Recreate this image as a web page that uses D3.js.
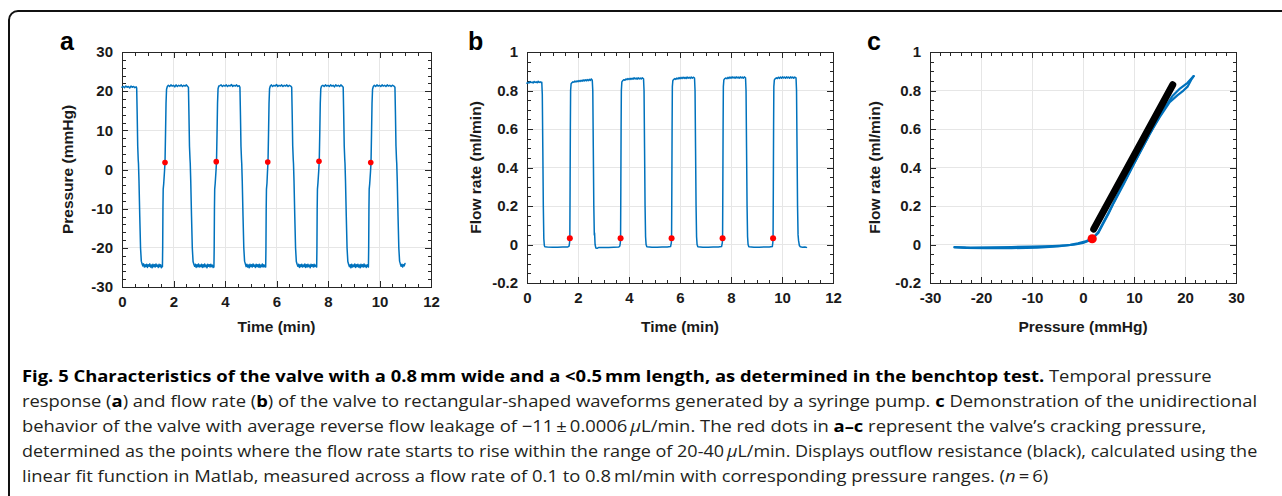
<!DOCTYPE html>
<html>
<head>
<meta charset="utf-8">
<script src="https://cdnjs.cloudflare.com/ajax/libs/d3/7.8.5/d3.min.js"></script>
<style>
  html, body { margin: 0; padding: 0; background: #fff; }
  svg { display: block; }
</style>
</head>
<body>
<svg width="1282" height="496"></svg>
<script>
// ---- data ----
const timeTicks = [0, 2, 4, 6, 8, 10, 12];
const pressureTicks = [-30, -20, -10, 0, 10, 20, 30];
const flowTicks = [-0.2, 0, 0.2, 0.4, 0.6, 0.8, 1];

// panel a: pressure (mmHg) vs time (min)
const pressureTrace = [
  [0,21.0],[0.05,21.2],[0.1,20.9],[0.15,21.3],[0.2,21.0],[0.25,21.2],[0.3,20.8],[0.35,21.3],[0.4,21.0],[0.45,21.2],[0.5,20.9],[0.55,21.1],
  [0.57,20.8],[0.59,14],[0.61,6],[0.63,2.5],[0.64,1.5],[0.66,-3],[0.69,-12],[0.72,-20],[0.75,-23.4],[0.78,-24.1],
  [0.81,-24.6],[0.84,-24.1],[0.87,-24.9],[0.9,-24.3],[0.93,-24.8],[0.96,-24.2],[0.99,-25.0],[1.02,-24.3],[1.05,-24.7],[1.08,-24.1],[1.11,-24.9],[1.14,-24.4],[1.17,-25.1],[1.2,-24.2],[1.23,-24.8],[1.26,-24.3],[1.29,-24.9],[1.32,-24.1],[1.35,-24.7],[1.38,-24.4],[1.41,-25.0],[1.44,-24.2],[1.47,-24.8],[1.5,-24.3],[1.53,-25.1],[1.56,-24.6],
  [1.57,-24.8],[1.58,-20],[1.59,-10],[1.6,-5],[1.62,-3.6],[1.65,-0.5],[1.67,1.8],[1.69,9],[1.71,17],[1.73,20.5],[1.76,21.2],
  [1.8,21.5],[1.85,21.2],[1.9,21.6],[1.95,21.3],[2.0,21.5],[2.05,21.1],[2.1,21.6],[2.15,21.2],[2.2,21.5],[2.25,21.3],[2.3,21.6],[2.35,21.2],[2.4,21.5],[2.45,21.3],[2.5,21.6],[2.55,21.2],
  [2.58,21.0],[2.6,14],[2.62,6],[2.64,2.8],[2.65,1.6],[2.67,-3],[2.7,-12],[2.73,-20],[2.76,-23.5],[2.79,-24.2],
  [2.82,-24.7],[2.85,-24.2],[2.88,-25.0],[2.91,-24.3],[2.94,-24.8],[2.97,-24.1],[3.0,-24.9],[3.03,-24.4],[3.06,-24.8],[3.09,-24.2],[3.12,-25.0],[3.15,-24.3],[3.18,-24.9],[3.21,-24.1],[3.24,-24.8],[3.27,-24.4],[3.3,-25.1],[3.33,-24.2],[3.36,-24.7],[3.39,-24.3],[3.42,-24.9],[3.45,-24.2],[3.48,-24.8],[3.51,-24.4],[3.54,-25.0],[3.56,-24.6],
  [3.57,-24.9],[3.58,-20],[3.59,-10],[3.6,-5],[3.62,-3.5],[3.65,-0.4],[3.67,2.0],[3.69,9],[3.71,17],[3.73,20.6],[3.76,21.3],
  [3.8,21.4],[3.85,21.6],[3.9,21.2],[3.95,21.5],[4.0,21.3],[4.05,21.6],[4.1,21.2],[4.15,21.5],[4.2,21.3],[4.25,21.7],[4.3,21.2],[4.35,21.5],[4.4,21.3],[4.45,21.6],[4.5,21.2],[4.55,21.4],
  [4.58,21.0],[4.6,14],[4.62,6],[4.64,2.7],[4.65,1.5],[4.67,-3],[4.7,-12],[4.73,-20],[4.76,-23.4],[4.79,-24.1],
  [4.82,-24.8],[4.85,-24.2],[4.88,-24.9],[4.91,-24.4],[4.94,-25.1],[4.97,-24.2],[5.0,-24.8],[5.03,-24.3],[5.06,-24.9],[5.09,-24.1],[5.12,-24.7],[5.15,-24.4],[5.18,-25.0],[5.21,-24.2],[5.24,-24.8],[5.27,-24.3],[5.3,-24.9],[5.33,-24.2],[5.36,-25.0],[5.39,-24.4],[5.42,-24.8],[5.45,-24.1],[5.48,-24.9],[5.51,-24.3],[5.54,-24.8],[5.57,-24.6],
  [5.58,-24.9],[5.59,-20],[5.6,-10],[5.61,-5],[5.63,-3.5],[5.65,-0.5],[5.67,1.9],[5.69,9],[5.71,17],[5.73,20.6],[5.76,21.3],
  [5.8,21.6],[5.85,21.2],[5.9,21.5],[5.95,21.3],[6.0,21.7],[6.05,21.2],[6.1,21.5],[6.15,21.3],[6.2,21.6],[6.25,21.2],[6.3,21.5],[6.35,21.3],[6.4,21.6],[6.45,21.2],[6.5,21.5],[6.55,21.3],
  [6.59,21.0],[6.61,14],[6.63,6],[6.65,2.6],[6.66,1.5],[6.68,-3],[6.71,-12],[6.74,-20],[6.77,-23.5],[6.8,-24.2],
  [6.83,-24.7],[6.86,-24.2],[6.89,-25.0],[6.92,-24.3],[6.95,-24.8],[6.98,-24.2],[7.01,-24.9],[7.04,-24.4],[7.07,-24.8],[7.1,-24.1],[7.13,-25.0],[7.16,-24.3],[7.19,-24.9],[7.22,-24.2],[7.25,-24.8],[7.28,-24.4],[7.31,-25.1],[7.34,-24.2],[7.37,-24.7],[7.4,-24.3],[7.43,-24.9],[7.46,-24.2],[7.49,-24.8],[7.52,-24.4],[7.55,-24.6],
  [7.56,-24.9],[7.57,-20],[7.58,-10],[7.59,-5],[7.61,-3.4],[7.64,-0.3],[7.66,2.1],[7.68,9],[7.7,17],[7.72,20.6],[7.75,21.3],
  [7.8,21.5],[7.85,21.2],[7.9,21.6],[7.95,21.3],[8.0,21.5],[8.05,21.2],[8.1,21.6],[8.15,21.3],[8.2,21.5],[8.25,21.1],[8.3,21.6],[8.35,21.3],[8.4,21.5],[8.45,21.2],[8.5,21.6],[8.55,21.3],
  [8.59,21.0],[8.61,14],[8.63,6],[8.65,2.7],[8.66,1.6],[8.68,-3],[8.71,-12],[8.74,-20],[8.77,-23.5],[8.8,-24.2],
  [8.83,-24.8],[8.86,-24.3],[8.89,-25.1],[8.92,-24.2],[8.95,-24.9],[8.98,-24.4],[9.01,-24.8],[9.04,-24.1],[9.07,-25.0],[9.1,-24.3],[9.13,-24.8],[9.16,-24.2],[9.19,-24.9],[9.22,-24.4],[9.25,-25.1],[9.28,-24.2],[9.31,-24.8],[9.34,-24.3],[9.37,-24.9],[9.4,-24.1],[9.43,-24.8],[9.46,-24.4],[9.49,-25.0],[9.52,-24.3],[9.55,-24.7],
  [9.57,-24.9],[9.58,-20],[9.59,-10],[9.6,-5],[9.62,-3.6],[9.65,-0.6],[9.67,1.7],[9.69,9],[9.71,17],[9.73,20.5],[9.76,21.2],
  [9.8,21.5],[9.85,21.2],[9.9,21.6],[9.95,21.3],[10.0,21.5],[10.05,21.2],[10.1,21.6],[10.15,21.3],[10.2,21.5],[10.25,21.2],[10.3,21.6],[10.35,21.3],[10.4,21.5],[10.45,21.2],[10.5,21.5],[10.56,21.3],
  [10.6,21.0],[10.62,14],[10.64,6],[10.66,2.6],[10.67,1.5],[10.69,-3],[10.72,-12],[10.75,-20],[10.78,-23.4],[10.81,-24.1],
  [10.84,-24.7],[10.87,-24.2],[10.9,-24.9],[10.93,-24.3],[10.96,-24.6],[10.99,-24.0]
];
const crackTimeA = [1.67, 3.66, 5.66, 7.65, 9.66];
const crackPressureA = [1.8, 2.0, 1.9, 2.1, 1.8];

// panel b: flow rate (ml/min) vs time (min)
const flowTrace = [
  [0,0.838],[0.04,0.842],[0.08,0.839],[0.12,0.846],[0.16,0.841],[0.2,0.844],[0.24,0.839],[0.28,0.847],[0.32,0.842],[0.36,0.845],[0.4,0.84],[0.44,0.848],[0.48,0.842],[0.52,0.845],[0.56,0.841],[0.58,0.843],
  [0.6,0.78],[0.62,0.5],[0.64,0.2],[0.66,0.03],[0.68,-0.005],[0.7,-0.012],
  [0.8,-0.013],[1.0,-0.014],[1.2,-0.014],[1.4,-0.013],[1.6,-0.013],[1.65,-0.008],[1.67,0.01],
  [1.68,0.033],[1.69,0.3],[1.7,0.6],[1.71,0.8],[1.73,0.835],[1.76,0.84],
  [1.8,0.845],[1.84,0.843],[1.88,0.849],[1.92,0.844],[1.96,0.85],[2.0,0.846],[2.04,0.852],[2.08,0.847],[2.12,0.853],[2.16,0.848],[2.2,0.855],[2.24,0.849],[2.28,0.856],[2.32,0.85],[2.36,0.857],[2.4,0.851],[2.44,0.858],[2.48,0.852],[2.52,0.86],[2.56,0.853],
  [2.58,0.8],[2.6,0.5],[2.62,0.2],[2.64,0.05],[2.65,0.06],[2.67,0.0],[2.7,-0.018],[2.75,-0.02],[2.8,-0.016],
  [3.0,-0.015],[3.2,-0.015],[3.4,-0.014],[3.6,-0.013],[3.64,-0.008],[3.66,0.01],
  [3.67,0.033],[3.68,0.3],[3.69,0.6],[3.7,0.8],[3.72,0.845],[3.76,0.852],
  [3.8,0.856],[3.84,0.853],[3.88,0.86],[3.92,0.856],[3.96,0.862],[4.0,0.857],[4.04,0.863],[4.08,0.858],[4.12,0.864],[4.16,0.859],[4.2,0.866],[4.24,0.86],[4.28,0.865],[4.32,0.859],[4.36,0.866],[4.4,0.86],[4.44,0.865],[4.48,0.86],[4.52,0.866],[4.57,0.861],
  [4.59,0.8],[4.61,0.5],[4.63,0.2],[4.65,0.04],[4.67,0.0],[4.7,-0.012],
  [4.9,-0.014],[5.1,-0.014],[5.3,-0.013],[5.5,-0.013],[5.63,-0.011],[5.66,0.01],
  [5.67,0.033],[5.68,0.3],[5.69,0.6],[5.7,0.82],[5.72,0.852],[5.76,0.858],
  [5.8,0.862],[5.84,0.858],[5.88,0.865],[5.92,0.86],[5.96,0.867],[6.0,0.861],[6.04,0.868],[6.08,0.862],[6.12,0.869],[6.16,0.863],[6.2,0.868],[6.24,0.862],[6.28,0.87],[6.32,0.864],[6.36,0.869],[6.4,0.863],[6.44,0.87],[6.48,0.864],[6.52,0.869],[6.57,0.864],
  [6.59,0.8],[6.61,0.5],[6.63,0.2],[6.65,0.04],[6.67,0.0],[6.7,-0.012],
  [6.9,-0.014],[7.1,-0.014],[7.3,-0.013],[7.5,-0.013],[7.63,-0.011],[7.66,0.01],
  [7.67,0.033],[7.68,0.3],[7.69,0.6],[7.7,0.82],[7.72,0.855],[7.76,0.862],
  [7.8,0.865],[7.84,0.861],[7.88,0.868],[7.92,0.863],[7.96,0.87],[8.0,0.864],[8.04,0.871],[8.08,0.865],[8.12,0.87],[8.16,0.864],[8.2,0.871],[8.24,0.865],[8.28,0.87],[8.32,0.864],[8.36,0.871],[8.4,0.865],[8.44,0.87],[8.48,0.864],[8.52,0.871],[8.57,0.866],
  [8.59,0.8],[8.61,0.5],[8.63,0.2],[8.65,0.04],[8.67,0.0],[8.7,-0.012],
  [8.9,-0.014],[9.1,-0.014],[9.3,-0.013],[9.5,-0.013],[9.62,-0.011],[9.64,0.01],
  [9.65,0.033],[9.66,0.3],[9.67,0.6],[9.68,0.82],[9.7,0.855],[9.74,0.862],
  [9.78,0.866],[9.82,0.862],[9.86,0.869],[9.9,0.863],[9.94,0.87],[9.98,0.864],[10.02,0.871],[10.06,0.865],[10.1,0.87],[10.14,0.864],[10.18,0.871],[10.22,0.865],[10.26,0.87],[10.3,0.864],[10.34,0.871],[10.38,0.865],[10.42,0.87],[10.46,0.864],[10.5,0.87],[10.55,0.866],
  [10.57,0.8],[10.59,0.5],[10.61,0.2],[10.63,0.05],[10.65,0.02],[10.68,-0.005],[10.72,-0.012],
  [10.8,-0.014],[10.9,-0.013],[10.96,-0.015]
];
const crackTimeB = [1.68, 3.67, 5.67, 7.67, 9.65];
const crackFlowB = [0.033, 0.033, 0.033, 0.033, 0.033];

// panel c: flow vs pressure loop, linear fit, cracking point
const loopRise = [
  [-25.2,-0.013],[-22,-0.016],[-18,-0.015],[-14,-0.013],[-10,-0.011],[-6,-0.008],[-3,-0.004],[-1.5,0.0],[0,0.008],[1,0.018],[1.8,0.03],
  [3,0.06],[4,0.11],[5,0.16],[6,0.215],[8,0.315],[10,0.42],[12,0.52],[14,0.62],[16,0.71],[17.5,0.77],[19,0.81],[20.5,0.84],[21.7,0.875]
];
const loopFall = [
  [21.7,0.875],[21.2,0.855],[20.5,0.82],[19.5,0.795],[18.5,0.775],[17,0.74],[15,0.66],[13,0.57],[11,0.47],[9,0.37],[7,0.27],[5,0.165],
  [4,0.115],[3,0.065],[2,0.035],[0.5,0.016],[-1,0.006],[-2.5,-0.002],[-5,-0.01],[-9,-0.016],[-14,-0.019],[-19,-0.019],[-23,-0.018],[-25.2,-0.015]
];
const fitPressure = [2.1, 17.6];
const fitFlow = [0.08, 0.83];
const crackPressureC = [1.8];
const crackFlowC = [0.03];

const captionLines = [
  [["b", "Fig. 5 Characteristics of the valve with a 0.8\u2009mm wide and a <0.5\u2009mm length, as determined in the benchtop test."], ["n", " Temporal pressure"]],
  [["n", "response ("], ["b", "a"], ["n", ") and flow rate ("], ["b", "b"], ["n", ") of the valve to rectangular-shaped waveforms generated by a syringe pump. "], ["b", "c"], ["n", " Demonstration of the unidirectional"]],
  [["n", "behavior of the valve with average reverse flow leakage of \u221211\u2009\u00b1\u20090.0006\u2009"], ["i", "\u03bc"], ["n", "L/min. The red dots in "], ["b", "a\u2013c"], ["n", " represent the valve\u2019s cracking pressure,"]],
  [["n", "determined as the points where the flow rate starts to rise within the range of 20-40\u2009"], ["i", "\u03bc"], ["n", "L/min. Displays outflow resistance (black), calculated using the"]],
  [["n", "linear fit function in Matlab, measured across a flow rate of 0.1 to 0.8\u2009ml/min with corresponding pressure ranges. ("], ["i", "n"], ["n", "\u2009=\u20096)"]]
];

// ---- drawing ----
const BLUE = "#0072BD";
const LABEL_FONT = '"Liberation Sans", Arial, sans-serif';
var svg = d3.select("svg");

svg.append("rect")
    .attr("x", 9).attr("y", 11)
    .attr("width", 1300).attr("height", 520)
    .attr("rx", 9)
    .attr("fill", "none").attr("stroke", "#111").attr("stroke-width", 2);

var fmt = function(d) { return String(d); };

function drawPanel(o) {
  var x = d3.scaleLinear().domain(o.xDomain).range([o.left, o.right]);
  var y = d3.scaleLinear().domain(o.yDomain).range([o.bottom, o.top]);
  var g = svg.append("g");

  // grid
  g.append("g").selectAll("line").data(o.xTicks).enter().append("line")
      .attr("x1", d => x(d)).attr("x2", d => x(d))
      .attr("y1", o.top).attr("y2", o.bottom)
      .attr("stroke", "#e6e6e6").attr("shape-rendering", "crispEdges");
  g.append("g").selectAll("line").data(o.yTicks).enter().append("line")
      .attr("y1", d => y(d)).attr("y2", d => y(d))
      .attr("x1", o.left).attr("x2", o.right)
      .attr("stroke", "#e6e6e6").attr("shape-rendering", "crispEdges");

  function addAxis(axis, tr, keepLabels) {
    var a = g.append("g").attr("transform", tr).call(axis);
    a.select(".domain").remove();
    a.selectAll(".tick line").attr("stroke", "#262626").attr("shape-rendering", "crispEdges");
    if (!keepLabels) a.selectAll(".tick text").remove();
    else a.selectAll(".tick text")
        .style("font-family", LABEL_FONT).style("font-weight", "bold")
        .style("font-size", "15px").style("fill", "#1a1a1a");
  }
  var xMinor = d3.range(o.xDomain[0], o.xDomain[1] + 1e-9, o.xMinorStep);
  var yMinor = d3.range(o.yDomain[0], o.yDomain[1] + 1e-9, o.yMinorStep);

  addAxis(d3.axisBottom(x).tickValues(xMinor).tickSize(-3.5).tickFormat(""), "translate(0," + o.bottom + ")", false);
  addAxis(d3.axisTop(x).tickValues(xMinor).tickSize(-3.5).tickFormat(""), "translate(0," + o.top + ")", false);
  addAxis(d3.axisLeft(y).tickValues(yMinor).tickSize(-3.5).tickFormat(""), "translate(" + o.left + ",0)", false);
  addAxis(d3.axisRight(y).tickValues(yMinor).tickSize(-3.5).tickFormat(""), "translate(" + o.right + ",0)", false);

  addAxis(d3.axisBottom(x).tickValues(o.xTicks).tickSize(-6).tickPadding(9).tickFormat(fmt), "translate(0," + o.bottom + ")", true);
  addAxis(d3.axisTop(x).tickValues(o.xTicks).tickSize(-6).tickFormat(""), "translate(0," + o.top + ")", false);
  addAxis(d3.axisLeft(y).tickValues(o.yTicks).tickSize(-6).tickPadding(9).tickFormat(fmt), "translate(" + o.left + ",0)", true);
  addAxis(d3.axisRight(y).tickValues(o.yTicks).tickSize(-6).tickFormat(""), "translate(" + o.right + ",0)", false);

  g.append("rect")
      .attr("x", o.left).attr("y", o.top)
      .attr("width", o.right - o.left).attr("height", o.bottom - o.top)
      .attr("fill", "none").attr("stroke", "#262626").attr("shape-rendering", "crispEdges");

  g.append("text")
      .attr("x", (o.left + o.right) / 2).attr("y", 332)
      .attr("text-anchor", "middle")
      .attr("font-family", LABEL_FONT).attr("font-weight", "bold").attr("font-size", 15.5)
      .attr("fill", "#1a1a1a")
      .text(o.xTitle);
  g.append("text")
      .attr("transform", "translate(" + o.yTitleX + "," + (o.top + o.bottom) / 2 + ") rotate(-90)")
      .attr("text-anchor", "middle")
      .attr("font-family", LABEL_FONT).attr("font-weight", "bold").attr("font-size", 15.5)
      .attr("fill", "#1a1a1a")
      .text(o.yTitle);
  g.append("text")
      .attr("x", o.letterX).attr("y", 50)
      .attr("font-family", LABEL_FONT).attr("font-weight", "bold").attr("font-size", 25)
      .attr("fill", "#000")
      .text(o.letter);

  return { x: x, y: y, g: g };
}

var pa = drawPanel({
  left: 122, right: 431, top: 52, bottom: 287,
  xDomain: [0, 12], yDomain: [-30, 30],
  xTicks: timeTicks, yTicks: pressureTicks,
  xMinorStep: 0.5, yMinorStep: 2,
  xTitle: "Time (min)", yTitle: "Pressure (mmHg)", yTitleX: 73,
  letter: "a", letterX: 60
});
var pb = drawPanel({
  left: 527, right: 833, top: 52, bottom: 283,
  xDomain: [0, 12], yDomain: [-0.2, 1],
  xTicks: timeTicks, yTicks: flowTicks,
  xMinorStep: 0.5, yMinorStep: 0.05,
  xTitle: "Time (min)", yTitle: "Flow rate (ml/min)", yTitleX: 481,
  letter: "b", letterX: 468
});
var pc = drawPanel({
  left: 930, right: 1236, top: 52, bottom: 283,
  xDomain: [-30, 30], yDomain: [-0.2, 1],
  xTicks: pressureTicks, yTicks: flowTicks,
  xMinorStep: 2, yMinorStep: 0.05,
  xTitle: "Pressure (mmHg)", yTitle: "Flow rate (ml/min)", yTitleX: 880,
  letter: "c", letterX: 867
});

function trace(p, data, color, width) {
  p.g.append("path")
      .datum(data)
      .attr("fill", "none")
      .attr("stroke", color)
      .attr("stroke-width", width)
      .attr("stroke-linejoin", "round")
      .attr("stroke-linecap", "round")
      .attr("d", d3.line().x(d => p.x(d[0])).y(d => p.y(d[1])));
}
function dots(p, xs, ys, r) {
  p.g.append("g").selectAll("circle").data(xs).enter().append("circle")
      .attr("cx", d => p.x(d))
      .attr("cy", (d, i) => p.y(ys[i]))
      .attr("r", r)
      .attr("fill", "#ff0000");
}

trace(pa, pressureTrace, BLUE, 1.5);
dots(pa, crackTimeA, crackPressureA, 2.8);

trace(pb, flowTrace, BLUE, 1.5);
dots(pb, crackTimeB, crackFlowB, 3);

trace(pc, loopRise, BLUE, 2.2);
trace(pc, loopFall, BLUE, 2.2);
trace(pc, fitPressure.map((p, i) => [p, fitFlow[i]]), "#000", 7);
dots(pc, crackPressureC, crackFlowC, 4.6);

// caption: one horizontal squeeze for all lines, set by the second (full) line;
// a line that would still run past the right margin is squeezed a bit more
var cap = svg.append("g")
    .attr("font-family", '"Open Sans", "Noto Sans", sans-serif')
    .attr("font-size", 16.5)
    .attr("fill", "#231f20");
var texts = captionLines.map(function(parts) {
  var t = cap.append("text").attr("x", 0).attr("y", 0);
  parts.forEach(function(p) {
    var s = t.append("tspan").text(p[1]);
    if (p[0] === "b") s.attr("font-weight", "bold").attr("fill", "#000");
    if (p[0] === "i") s.attr("font-style", "italic");
  });
  return t;
});
var fullWidth = 1236;
var k = fullWidth / texts[1].node().getComputedTextLength();
texts.forEach(function(t, i) {
  var w = t.node().getComputedTextLength();
  var s = Math.min(k, fullWidth / w);
  t.attr("transform", "translate(22," + (382 + 25 * i) + ") scale(" + s + ",1)");
});
</script>
</body>
</html>
